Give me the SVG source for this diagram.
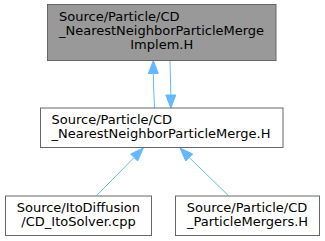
<svg xmlns="http://www.w3.org/2000/svg" width="325" height="241" viewBox="0 0 325 241">
<style>
.box{fill:#ffffff;stroke:#666666;stroke-width:1}
.hl{fill:#999999;stroke:#666666;stroke-width:1}
text{font-family:"DejaVu Sans",sans-serif;font-size:13px;fill:#000000}
.e{fill:none;stroke:#63b8ff;stroke-width:1}
.ah{fill:#63b8ff;stroke:#63b8ff;stroke-width:1}
</style>
<rect width="325" height="241" fill="#ffffff"/>
<g id="connectors">
<g id="edge1">
<path class="e" d="M154.5,108 C154,97 153.5,85 153.3,73.5"/>
<polygon class="ah" points="148.3,73.5 158.3,73.5 153.3,60.5"/>
</g>
<g id="edge2">
<path class="e" d="M170,60.5 C170.3,72 170.6,84 170.8,95"/>
<polygon class="ah" points="165.8,95 175.8,95 170.8,108"/>
</g>
<g id="edge3">
<path class="e" d="M96.7,195.5 L134.1,157.5"/>
<polygon class="ah" points="137.6,161 130.6,154 143.3,148"/>
</g>
<g id="edge4">
<path class="e" d="M228.3,195.5 L189.2,157.5"/>
<polygon class="ah" points="185.7,161 192.7,154 180,148"/>
</g>
</g>
<g id="node1">
<rect class="hl" x="47.5" y="4.5" width="228.5" height="56"/>
<text x="59" y="21">Source/Particle/CD</text>
<text x="59" y="35">_NearestNeighborParticleMerge</text>
<text x="161.75" y="49" text-anchor="middle">Implem.H</text>
</g>
<g id="node2">
<rect class="box" x="40.5" y="108" width="242.5" height="39.5"/>
<text x="51.5" y="123.5">Source/Particle/CD</text>
<text x="51.5" y="137.5">_NearestNeighborParticleMerge.H</text>
</g>
<g id="node3">
<rect class="box" x="5.5" y="196" width="146" height="39.5"/>
<text x="16.7" y="211.5">Source/ItoDiffusion</text>
<text x="78.5" y="225.5" text-anchor="middle">/CD_ItoSolver.cpp</text>
</g>
<g id="node4">
<rect class="box" x="175.5" y="196" width="144" height="39.5"/>
<text x="186.7" y="211.5">Source/Particle/CD</text>
<text x="247.5" y="225.5" text-anchor="middle">_ParticleMergers.H</text>
</g>
</svg>
